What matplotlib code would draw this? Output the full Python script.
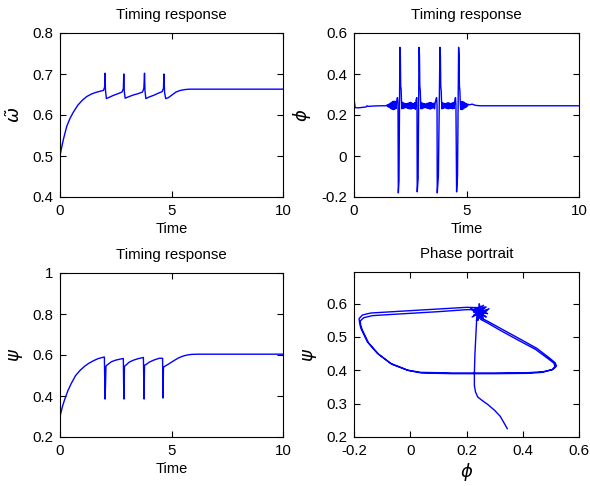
import matplotlib
matplotlib.use("Agg")
import matplotlib.pyplot as plt

plt.rcParams['font.family'] = ['Liberation Sans', 'DejaVu Sans']
plt.rcParams['axes.unicode_minus'] = False
plt.rcParams['mathtext.fontset'] = 'dejavusans'

# ---------------- data ----------------
# omega tilde timing response
omega_t = [0, 0.05, 0.15, 0.3, 0.45, 0.6, 0.8, 1.0, 1.2, 1.4, 1.6, 1.8, 1.95,
           2.0, 2.02, 2.04, 2.08, 2.2, 2.4, 2.6, 2.78, 2.84, 2.86, 2.88, 2.92,
           3.1, 3.3, 3.5, 3.7, 3.76, 3.79, 3.81, 3.85, 4.0, 4.2, 4.4, 4.58,
           4.64, 4.66, 4.69, 4.74, 4.85, 5.0, 5.2, 5.4, 5.6, 5.8, 6.5, 10]
omega_v = [0.5, 0.515, 0.54, 0.572, 0.592, 0.607, 0.624, 0.636, 0.645, 0.651,
           0.655, 0.658, 0.66, 0.668, 0.702, 0.66, 0.64, 0.643, 0.648, 0.652,
           0.656, 0.664, 0.70, 0.66, 0.641, 0.645, 0.649, 0.652, 0.656, 0.665,
           0.702, 0.66, 0.64, 0.644, 0.648, 0.653, 0.657, 0.665, 0.70, 0.655,
           0.64, 0.642, 0.648, 0.656, 0.66, 0.662, 0.663, 0.663, 0.663]

# phi timing response
phi_t = [0, 0.02, 0.05, 0.2, 0.45, 0.55, 0.58, 0.62, 0.9, 1.2, 1.45,
         1.48, 1.51, 1.54, 1.57, 1.60, 1.63, 1.66, 1.69, 1.72, 1.75, 1.78, 1.81,
         1.84, 1.87, 1.90, 1.93,
         1.955, 1.97, 2.00, 2.04, 2.06, 2.075, 2.095, 2.11,
         2.13, 2.16, 2.19, 2.22, 2.25, 2.28, 2.31, 2.34, 2.37, 2.40, 2.43, 2.46,
         2.49, 2.52, 2.55, 2.58, 2.61, 2.64, 2.67, 2.70, 2.73, 2.76,
         2.79, 2.80, 2.81, 2.85, 2.89, 2.91, 2.925, 2.945, 2.96,
         2.98, 3.01, 3.04, 3.07, 3.10, 3.13, 3.16, 3.19, 3.22, 3.25, 3.28, 3.31,
         3.34, 3.37, 3.40, 3.43, 3.46, 3.49, 3.52, 3.55, 3.58, 3.61, 3.64,
         3.67, 3.69, 3.70, 3.75, 3.82, 3.84, 3.855, 3.875, 3.89,
         3.91, 3.94, 3.97, 4.00, 4.03, 4.06, 4.09, 4.12, 4.15, 4.18, 4.21, 4.24,
         4.27, 4.30, 4.33, 4.36, 4.39, 4.42, 4.45, 4.48, 4.51,
         4.53, 4.56, 4.60, 4.65, 4.67, 4.685, 4.705, 4.72,
         4.74, 4.77, 4.80, 4.83, 4.86, 4.89, 4.92, 4.95, 4.98, 5.01, 5.04, 5.08,
         5.15, 5.25, 5.4, 5.6, 10]
phi_v = [0.27, 0.262, 0.236, 0.235, 0.238, 0.240, 0.245, 0.242, 0.244, 0.245, 0.245,
         0.25, 0.24, 0.252, 0.236, 0.256, 0.232, 0.262, 0.228, 0.266, 0.226, 0.268, 0.228,
         0.266, 0.232, 0.27, 0.285,
         0.26, -0.18, -0.12, 0.53, 0.49, 0.34, 0.325, 0.27,
         0.23, 0.262, 0.232, 0.258, 0.234, 0.256, 0.236, 0.255, 0.233, 0.258, 0.231, 0.26,
         0.229, 0.262, 0.23, 0.258, 0.233, 0.256, 0.232, 0.26, 0.228, 0.275,
         0.285, 0.25, -0.175, -0.11, 0.53, 0.49, 0.34, 0.32, 0.27,
         0.23, 0.26, 0.231, 0.257, 0.234, 0.255, 0.236, 0.254, 0.234, 0.257, 0.232, 0.259,
         0.23, 0.261, 0.229, 0.26, 0.232, 0.257, 0.235, 0.258, 0.23, 0.262, 0.275,
         0.285, 0.25, -0.18, -0.1, 0.53, 0.49, 0.34, 0.32, 0.27,
         0.23, 0.26, 0.232, 0.257, 0.235, 0.255, 0.233, 0.258, 0.231, 0.26, 0.23, 0.258,
         0.233, 0.256, 0.232, 0.259, 0.23, 0.261, 0.232, 0.27, 0.285,
         0.25, -0.175, -0.1, 0.53, 0.49, 0.34, 0.32, 0.27,
         0.228, 0.265, 0.226, 0.266, 0.23, 0.262, 0.234, 0.258, 0.238, 0.255, 0.243, 0.252,
         0.25, 0.253, 0.247, 0.245, 0.245]

# psi timing response
psi_t = [0, 0.1, 0.2, 0.35, 0.5, 0.7, 0.9, 1.1, 1.3, 1.5, 1.7, 1.9, 1.99,
         2.01, 2.02, 2.04, 2.06, 2.1, 2.3, 2.5, 2.7, 2.84, 2.86, 2.87, 2.89,
         2.93, 3.1, 3.3, 3.5, 3.74, 3.77, 3.79, 3.85, 4.0, 4.2, 4.45, 4.6,
         4.62, 4.64, 4.7, 4.9, 5.1, 5.3, 5.5, 5.7, 5.9, 6.2, 10]
psi_v = [0.30, 0.345, 0.38, 0.425, 0.46, 0.5, 0.525, 0.545, 0.56, 0.572,
         0.582, 0.588, 0.59, 0.45, 0.385, 0.45, 0.545, 0.55, 0.567, 0.575,
         0.58, 0.583, 0.40, 0.385, 0.545, 0.548, 0.565, 0.575, 0.582, 0.588,
         0.385, 0.55, 0.553, 0.565, 0.575, 0.584, 0.584, 0.39, 0.54, 0.545,
         0.558, 0.572, 0.585, 0.594, 0.6, 0.603, 0.604, 0.604]

# phase portrait (phi, psi)
phase_phi = [0.345, 0.335, 0.32, 0.30, 0.275, 0.255, 0.24, 0.232, 0.228, 0.228,
             0.23, 0.233, 0.236, 0.238,
             0.25, 0.225, 0.27, 0.22, 0.28, 0.235, 0.26, 0.23, 0.275, 0.215,
             0.26, 0.245, 0.24, 0.25,
             0.20, 0.10, 0.0, -0.08, -0.14, -0.17, -0.182, -0.18, -0.176, -0.153,
             -0.117, -0.07, -0.011, 0.036, 0.15, 0.3, 0.42, 0.473, 0.508, 0.52,
             0.515, 0.495, 0.45, 0.39, 0.325, 0.28, 0.255,
             0.245, 0.27, 0.225, 0.265, 0.24, 0.252,
             0.20, 0.10, 0.0, -0.08, -0.135, -0.165, -0.178, -0.176, -0.17, -0.148,
             -0.112, -0.065, -0.005, 0.04, 0.15, 0.3, 0.42, 0.47, 0.505, 0.515,
             0.51, 0.49, 0.445, 0.385, 0.32, 0.275, 0.25,
             0.26, 0.23, 0.27, 0.24, 0.245]
phase_psi = [0.225, 0.24, 0.262, 0.28, 0.298, 0.31, 0.32, 0.335, 0.355, 0.39,
             0.45, 0.5, 0.55, 0.57,
             0.585, 0.575, 0.59, 0.56, 0.585, 0.55, 0.595, 0.58, 0.57, 0.585,
             0.555, 0.60, 0.55, 0.588,
             0.589, 0.584, 0.579, 0.575, 0.572, 0.566, 0.555, 0.542, 0.527, 0.486,
             0.451, 0.421, 0.401, 0.394, 0.392, 0.392, 0.393, 0.396, 0.403, 0.413,
             0.423, 0.437, 0.466, 0.494, 0.524, 0.545, 0.556,
             0.575, 0.58, 0.565, 0.59, 0.55, 0.582,
             0.582, 0.576, 0.571, 0.567, 0.564, 0.558, 0.548, 0.535, 0.52, 0.482,
             0.448, 0.418, 0.399, 0.392, 0.390, 0.390, 0.391, 0.394, 0.402, 0.412,
             0.422, 0.435, 0.463, 0.49, 0.52, 0.542, 0.553,
             0.57, 0.585, 0.56, 0.575, 0.578]

# ---------------- figure ----------------
W, H = 590, 486
fig = plt.figure(figsize=(W / 100, H / 100), dpi=100)

def px_axes(left, top, right, bottom):
    return fig.add_axes([left / W, 1 - bottom / H, (right - left) / W, (bottom - top) / H])

ax1 = px_axes(60, 33, 283, 197)
ax2 = px_axes(354, 33, 579, 197)
ax3 = px_axes(60, 273, 283, 437)
ax4 = px_axes(354, 272, 579, 437)

blue = '#0000ff'
lw = 1.0
ax1.plot(omega_t, omega_v, color=blue, lw=lw)
ax2.plot(phi_t, phi_v, color=blue, lw=lw)
ax3.plot(psi_t, psi_v, color=blue, lw=lw)
ax4.plot(phase_phi, phase_psi, color=blue, lw=lw)

tick_fs = 10.8
for ax in (ax1, ax2, ax3, ax4):
    ax.tick_params(direction='in', top=True, right=True, length=4, width=0.8,
                   labelsize=tick_fs, pad=5)
    for s in ax.spines.values():
        s.set_linewidth(0.8)

for ax in (ax1, ax2, ax3):
    ax.set_xlim(0, 10)
    ax.set_xticks([0, 5, 10])
    ax.set_xticklabels(['0', '5', '10'])
    ax.set_xlabel('Time', fontsize=10.5, labelpad=3)
    ax.set_title('Timing response', fontsize=10.8, pad=10)

ax1.set_ylim(0.4, 0.8)
ax1.set_yticks([0.4, 0.5, 0.6, 0.7, 0.8])
ax1.set_yticklabels(['0.4', '0.5', '0.6', '0.7', '0.8'])
ax1.set_ylabel(r'$\tilde{\omega}$', fontsize=13, labelpad=6)

ax2.set_ylim(-0.2, 0.6)
ax2.set_yticks([-0.2, 0, 0.2, 0.4, 0.6])
ax2.set_yticklabels(['-0.2', '0', '0.2', '0.4', '0.6'])
ax2.set_ylabel(r'$\phi$', fontsize=13, labelpad=6)

ax3.set_ylim(0.2, 1.0)
ax3.set_yticks([0.2, 0.4, 0.6, 0.8, 1.0])
ax3.set_yticklabels(['0.2', '0.4', '0.6', '0.8', '1'])
ax3.set_ylabel(r'$\psi$', fontsize=13, labelpad=5)

ax4.set_xlim(-0.2, 0.6)
ax4.set_xticks([-0.2, 0, 0.2, 0.4, 0.6])
ax4.set_xticklabels(['-0.2', '0', '0.2', '0.4', '0.6'])
ax4.set_ylim(0.2, 0.695)
ax4.set_yticks([0.2, 0.3, 0.4, 0.5, 0.6])
ax4.set_yticklabels(['0.2', '0.3', '0.4', '0.5', '0.6'])
ax4.set_xlabel(r'$\phi$', fontsize=13, labelpad=2)
ax4.set_ylabel(r'$\psi$', fontsize=13, labelpad=5)
ax4.set_title('Phase portrait', fontsize=10.8, pad=10)

fig.savefig('out.png', dpi=100)
